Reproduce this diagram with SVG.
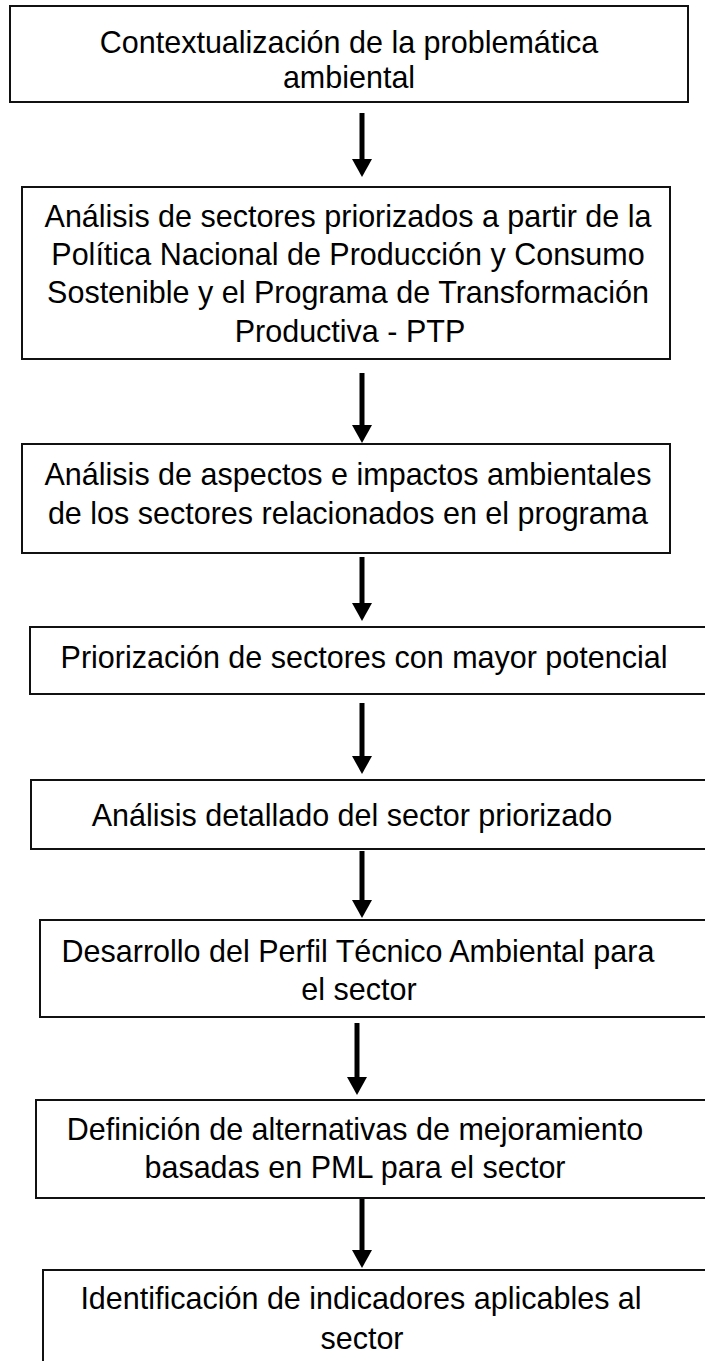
<svg xmlns="http://www.w3.org/2000/svg" width="705" height="1361" viewBox="0 0 705 1361">
<style>
.box{fill:#fff;stroke:#111;stroke-width:2}
.t{font-family:"Liberation Sans",Arial,sans-serif;font-size:30.5px;fill:#000;text-anchor:middle}
.c{stroke:#000;stroke-width:5;fill:none}
.h{fill:#000}
</style>
<rect width="705" height="1361" fill="#fff"/>
<g id="connectors">
<line class="c" x1="362" y1="113" x2="362" y2="160"/><polygon class="h" points="352,159 372,159 362,177"/>
<line class="c" x1="362" y1="373" x2="362" y2="426"/><polygon class="h" points="352,425 372,425 362,443"/>
<line class="c" x1="362" y1="557" x2="362" y2="604"/><polygon class="h" points="352,603 372,603 362,621"/>
<line class="c" x1="362" y1="703" x2="362" y2="757"/><polygon class="h" points="352,756 372,756 362,774"/>
<line class="c" x1="362" y1="851" x2="362" y2="901"/><polygon class="h" points="352,900 372,900 362,918"/>
<line class="c" x1="357" y1="1023" x2="357" y2="1078"/><polygon class="h" points="347,1077 367,1077 357,1095"/>
<line class="c" x1="362" y1="1198" x2="362" y2="1251"/><polygon class="h" points="352,1250 372,1250 362,1268"/>
</g>
<g id="n1"><rect class="box" x="10" y="6" width="678" height="96"/>
<text class="t" x="349" y="53">Contextualización de la problemática</text>
<text class="t" x="349" y="88">ambiental</text></g>
<g id="n2"><rect class="box" x="22" y="187" width="648" height="172"/>
<text class="t" x="348" y="227">Análisis de sectores priorizados a partir de la</text>
<text class="t" x="348" y="265">Política Nacional de Producción y Consumo</text>
<text class="t" x="348" y="303">Sostenible y el Programa de Transformación</text>
<text class="t" x="350" y="342">Productiva - PTP</text></g>
<g id="n3"><rect class="box" x="22" y="444" width="648" height="109"/>
<text class="t" x="348" y="485">Análisis de aspectos e impactos ambientales</text>
<text class="t" x="348" y="524">de los sectores relacionados en el programa</text></g>
<g id="n4"><rect class="box" x="30" y="627" width="690" height="67"/>
<text class="t" x="364" y="668">Priorización de sectores con mayor potencial</text></g>
<g id="n5"><rect class="box" x="31" y="780" width="690" height="69"/>
<text class="t" x="352" y="826">Análisis detallado del sector priorizado</text></g>
<g id="n6"><rect class="box" x="40" y="920" width="690" height="97"/>
<text class="t" x="358" y="962">Desarrollo del Perfil Técnico Ambiental para</text>
<text class="t" x="359" y="1000">el sector</text></g>
<g id="n7"><rect class="box" x="36" y="1100" width="690" height="98"/>
<text class="t" x="355" y="1140">Definición de alternativas de mejoramiento</text>
<text class="t" x="355" y="1178">basadas en PML para el sector</text></g>
<g id="n8"><rect class="box" x="43" y="1270" width="690" height="120"/>
<text class="t" x="361" y="1309">Identificación de indicadores aplicables al</text>
<text class="t" x="362" y="1349">sector</text></g>
</svg>
